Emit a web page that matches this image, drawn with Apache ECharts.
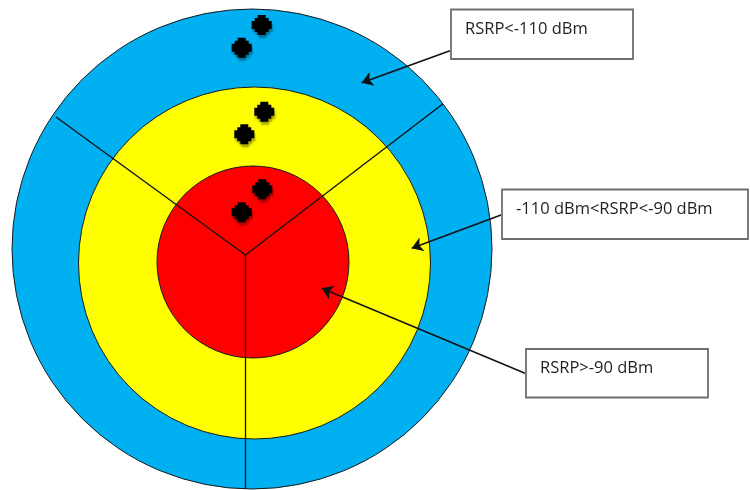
<!DOCTYPE html>
<html>
<head>
<meta charset="utf-8">
<script src="https://cdn.jsdelivr.net/npm/echarts@6/dist/echarts.min.js"></script>
<style>html,body{margin:0;padding:0;background:#fff}#c{width:750px;height:490px}</style>
</head>
<body>
<div id="c"></div>
<script>
// ---- data (picture coordinate units: x 0..750, y 0..490 downwards) ----
const ringNames   = ['RSRP<-110 dBm', '-110 dBm<RSRP<-90 dBm', 'RSRP>-90 dBm'];
const ringCenterX = [252, 254.5, 253];
const ringCenterY = [249, 263, 262];
const ringRadius  = [240, 176, 96];

const dotX = [261.7, 241.7, 264.3, 244.3, 262.3, 241.7];
const dotY = [25, 47.7, 111.7, 134.3, 189.3, 212.3];

const hubX = 245.5, hubY = 255;
const spokeEndX = [56, 442.7, 245.5];
const spokeEndY = [117, 104, 489];

const labelTexts = ['RSRP<-110 dBm', '-110 dBm<RSRP<-90 dBm', 'RSRP>-90 dBm'];
const boxX1 = [451, 502, 526];
const boxY1 = [9.5, 189.5, 349];
const boxX2 = [633, 748, 708];
const boxY2 = [59, 239, 397.5];
const arrowFromX = [450, 501, 525];
const arrowFromY = [50.7, 215, 373.3];
const arrowToX = [361.7, 411.7, 321.7];
const arrowToY = [82.7, 248.3, 288.3];

// ---- styles ----
const ringColors = ['#00B0F0', '#FFFF00', '#FF0000'];

const chart = echarts.init(document.getElementById('c'), null, {renderer: 'canvas'});

const ringData = ringNames.map((n, i) => ({name: n, value: [ringCenterX[i], ringCenterY[i], ringRadius[i]]}));
const dotData = dotX.map((x, i) => [x, dotY[i]]);
const spokeData = spokeEndX.map((x, i) => ({coords: [[hubX, hubY], [x, spokeEndY[i]]]}));
const arrowData = arrowFromX.map((x, i) => ({coords: [[x, arrowFromY[i]], [arrowToX[i], arrowToY[i]]]}));
const boxData = labelTexts.map((t, i) => ({name: t, value: [boxX1[i], boxY1[i], boxX2[i], boxY2[i]]}));

const dotPath = 'path://M6,0L14,0L14,3L17,3L17,6L20,6L20,14L17,14L17,17L14,17L14,20L6,20L6,17L3,17L3,14L0,14L0,6L3,6L3,3L6,3Z';

chart.setOption({
  animation: false,
  grid: {left: 0, right: 0, top: 0, bottom: 0},
  xAxis: {type: 'value', min: 0, max: 750, show: false},
  yAxis: {type: 'value', min: 0, max: 490, inverse: true, show: false},
  series: [
    {
      type: 'custom', z: 1, clip: false,
      data: ringData,
      renderItem: function (params, api) {
        const c = api.coord([api.value(0), api.value(1)]);
        const s = api.size([api.value(2), api.value(2)]);
        return {type: 'circle', shape: {cx: c[0], cy: c[1], r: s[0]},
          style: {fill: ringColors[params.dataIndex], stroke: '#1a1a1a', lineWidth: 1}};
      }
    },
    {
      type: 'lines', coordinateSystem: 'cartesian2d', z: 2,
      data: spokeData, symbol: 'none',
      lineStyle: {color: '#111', width: 1.3, opacity: 1}
    },
    {
      type: 'scatter', z: 3,
      data: dotData, symbol: dotPath, symbolSize: 20,
      itemStyle: {color: '#000', opacity: 1, shadowBlur: 2, shadowOffsetX: 1, shadowOffsetY: 3, shadowColor: 'rgba(0,0,0,0.35)'}
    },
    {
      type: 'lines', coordinateSystem: 'cartesian2d', z: 4,
      data: arrowData, symbol: ['none', 'arrow'], symbolSize: 11,
      lineStyle: {color: '#111', width: 1.5, opacity: 1}
    },
    {
      type: 'custom', z: 5, clip: false,
      data: boxData,
      renderItem: function (params, api) {
        const p1 = api.coord([api.value(0), api.value(1)]);
        const p2 = api.coord([api.value(2), api.value(3)]);
        return {type: 'group', children: [
          {type: 'rect', shape: {x: p1[0], y: p1[1], width: p2[0] - p1[0], height: p2[1] - p1[1]},
            style: {fill: '#fff', stroke: '#6e6e6e', lineWidth: 1.8}},
          {type: 'text', x: p1[0] + 14, y: p1[1] + 19.5,
            style: {text: labelTexts[params.dataIndex], fill: '#1f1f1f', font: '16.5px "Open Sans"', verticalAlign: 'middle', align: 'left'}}
        ]};
      }
    }
  ]
});
</script>
</body>
</html>
